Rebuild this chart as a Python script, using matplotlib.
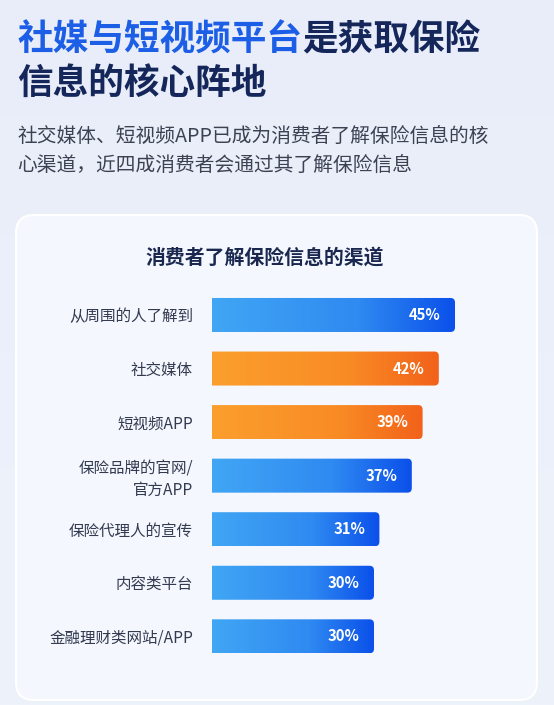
import numpy as np
import matplotlib
matplotlib.use("Agg")
import matplotlib.pyplot as plt
from matplotlib.patches import FancyBboxPatch
from matplotlib.colors import to_rgb

plt.rcParams['font.family'] = ['Noto Sans CJK SC', 'DejaVu Sans']

# ---- data ----
categories = ["从周围的人了解到", "社交媒体", "短视频APP", "保险品牌的官网/\n官方APP",
              "保险代理人的宣传", "内容类平台", "金融理财类网站/APP"]
values = [45, 42, 39, 37, 31, 30, 30]
highlight = [False, True, True, False, False, False, False]
title_blue = "社媒与短视频平台"
title_dark = "是获取保险"
title_line2 = "信息的核心阵地"
subtitle = "社交媒体、短视频APP已成为消费者了解保险信息的核\n心渠道，近四成消费者会通过其了解保险信息"
chart_title = "消费者了解保险信息的渠道"

W, H = 554, 705
fig = plt.figure(figsize=(W / 100, H / 100), dpi=100)

# ---- background ----
bg = fig.add_axes([0, 0, 1, 1])
bg.set_xlim(0, W)
bg.set_ylim(H, 0)
bg.axis('off')
grad = np.linspace(0, 1, 256)[:, None]
c1 = np.array(to_rgb("#e8edf9"))
c2 = np.array(to_rgb("#eef3fb"))
img = c1[None, None, :] * (1 - grad[..., None]) + c2[None, None, :] * grad[..., None]
bg.imshow(np.repeat(img, 2, axis=1), extent=(0, W, H, 0), aspect='auto', zorder=0)
card = FancyBboxPatch((16, 215), 521, 485, boxstyle="round,pad=0,rounding_size=18",
                      facecolor="#f4f7fd", edgecolor="#ffffff", linewidth=1.5, zorder=1)
bg.add_patch(card)


def px(x, y):
    return x / W, 1 - y / H


# ---- titles ----
t1 = fig.text(*px(17, 40), title_blue, fontsize=25.7, fontweight='bold', color="#1c5fe6",
              ha='left', va='center')
fig.add_artist(plt.matplotlib.text.Annotation(
    title_dark, xy=(1, 0), xycoords=t1, fontsize=25.7, fontweight='bold',
    color="#15275a", ha='left', va='bottom', annotation_clip=False))
fig.text(*px(17, 83), title_line2, fontsize=25.7, fontweight='bold', color="#15275a",
         ha='left', va='center')
fig.text(*px(17, 151), subtitle, fontsize=14.2, color="#3c4252", ha='left', va='center',
         linespacing=1.45)
fig.text(*px(265, 257), chart_title, fontsize=14.3, fontweight='bold', color="#1a2850",
         ha='center', va='center')

# ---- bar chart ----
left_px, right_px = 212, 536
top_px, bot_px = 288.2, 663.1
ax = fig.add_axes([left_px / W, 1 - bot_px / H, (right_px - left_px) / W, (bot_px - top_px) / H])
n = len(values)
ax.patch.set_alpha(0)
for s in ax.spines.values():
    s.set_visible(False)
ax.set_xticks([])
ax.set_yticks(range(n))
ax.set_yticklabels(categories, fontsize=11.2, color="#343a50", linespacing=1.35)
for lab in ax.get_yticklabels():
    lab.set_multialignment('right')
ax.tick_params(axis='y', length=0, pad=13.7)

bar_h = 34 / 53.55
x_per_px = 1 / 5.4
y_per_px = 1 / 53.55
r = 4.5 * x_per_px
aspect = (y_per_px / x_per_px)

blue_stops = ["#41a6f4", "#2f8af1", "#0b50ea"]
orange_stops = ["#fb9f2d", "#f98b25", "#f2621a"]


def gradient(stops, npx=300):
    pos = np.array([0, 0.6, 1.0])
    t = np.linspace(0, 1, npx)
    cols = np.array([to_rgb(c) for c in stops])
    arr = np.stack([np.interp(t, pos, cols[:, k]) for k in range(3)], axis=-1)
    return arr[None, :, :]


for i, (v, hl) in enumerate(zip(values, highlight)):
    y0 = i - bar_h / 2
    clip = FancyBboxPatch((-3, y0), v + 3, bar_h,
                          boxstyle=f"round,pad=0,rounding_size={r}",
                          mutation_aspect=aspect, facecolor='none', edgecolor='none')
    ax.add_patch(clip)
    im = ax.imshow(gradient(orange_stops if hl else blue_stops), extent=(0, v, y0 + bar_h, y0),
                   aspect='auto', zorder=2, interpolation='bilinear')
    im.set_clip_path(clip)
    ax.annotate(f"{v}%", xy=(v, i), xytext=(-10.3, 0), textcoords='offset points',
                ha='right', va='center', fontsize=10.7, fontweight='bold', color='white', zorder=3)

ax.set_xlim(0, (right_px - left_px) / 5.4)
ax.set_ylim(n - 0.5, -0.5)

fig.savefig("out.png", dpi=100)
